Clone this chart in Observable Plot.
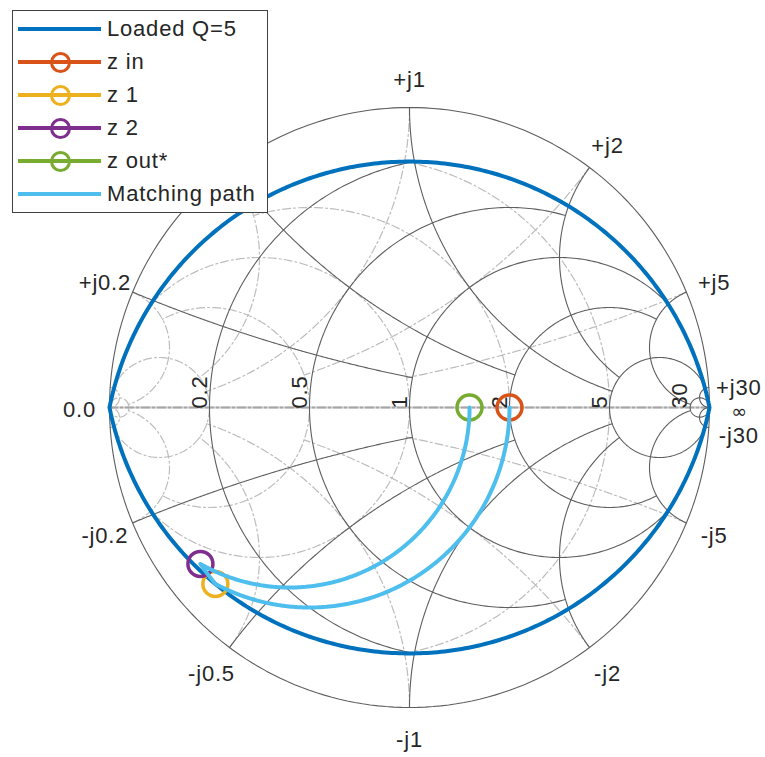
<!DOCTYPE html>
<html><head><meta charset="utf-8">
<script src="https://cdn.jsdelivr.net/npm/d3@7"></script>
<script src="https://cdn.jsdelivr.net/npm/@observablehq/plot@0.6"></script>
<style>
body{margin:0;background:#fff;}
#wrap{position:relative;width:765px;height:757px;font-family:"Liberation Sans",Arial,Helvetica,sans-serif;}
#legend{position:absolute;left:12px;top:10px;width:256px;height:203px;border:1.5px solid #404040;background:#fff;box-sizing:border-box;}
.row{position:absolute;left:0;width:100%;height:0;}
.ln{position:absolute;left:5px;width:83px;height:4px;top:-2px;}
.mk{position:absolute;left:37px;top:-10.5px;width:21px;height:21px;border-radius:50%;border:3px solid;box-sizing:border-box;background:transparent;}
.tx{position:absolute;left:94px;top:-13px;font-size:22px;line-height:26px;color:#262626;letter-spacing:0.8px;white-space:nowrap;}
</style></head>
<body><div id="wrap"><div id="chart"></div><div id="legend"></div></div>
<script>
// ---- chart data ----
const gridValues = [0.2, 0.5, 1, 2, 5, 30];
const gridLimits = [1, 2, 5, 5, 30, Infinity];
const resistanceLabels = ["0.2", "0.5", "1", "2", "5", "30"];
const posReactanceLabels = ["+j0.2", "+j0.5", "+j1", "+j2", "+j5", "+j30"];
const negReactanceLabels = ["-j0.2", "-j0.5", "-j1", "-j2", "-j5", "-j30"];
const loadedQ = 5;
const pointNames = ["z in", "z 1", "z 2", "z out*"];
const pointR = [2.0, 0.0769, 0.0769, 1.5];
const pointX = [0, -0.3846, -0.3309, 0];
const pointColors = ["#D95319", "#EDB120", "#7E2F8E", "#77AC30"];
const pathSteps = ["shunt", "series", "shunt"]; // element type between consecutive points
const qColor = "#0072BD";
const pathColor = "#4DBEEE";

// ---- Smith chart geometry ----
const N = 240;
const TAU = 2 * Math.PI;
function gamma(r, x) { const d = (r + 1) ** 2 + x * x; return [(r * r + x * x - 1) / d, 2 * x / d]; }
function norm(a) { return a < 0 ? a + TAU : a; }

const zGrid = [];
gridValues.forEach((v, i) => {
  const L = gridLimits[i];
  // constant resistance circle, clipped to |x| <= L
  const c = v / (1 + v), rho = 1 / (1 + v);
  let phiL = 0;
  if (isFinite(L)) { const g = gamma(v, L); phiL = Math.atan2(g[1], g[0] - c); }
  for (let k = 0; k <= N; k++) {
    const phi = phiL + (TAU - 2 * phiL) * k / N;
    zGrid.push({x: c + rho * Math.cos(phi), y: rho * Math.sin(phi), id: "r" + v});
  }
  // constant reactance arcs, clipped to r <= L
  const cy = 1 / v;
  const g0 = gamma(0, v);
  const p0 = norm(Math.atan2(g0[1] - cy, g0[0] - 1));
  const gE = isFinite(L) ? gamma(L, v) : [1, 0];
  const pE = norm(Math.atan2(gE[1] - cy, gE[0] - 1));
  for (const s of [1, -1]) {
    for (let k = 0; k <= N; k++) {
      const p = p0 + (pE - p0) * k / N;
      zGrid.push({x: 1 + cy * Math.cos(p), y: s * (cy + cy * Math.sin(p)), id: "x" + s * v});
    }
  }
});
const yGrid = zGrid.map(d => ({x: -d.x, y: -d.y, id: d.id}));
const unitCircle = d3.range(N + 1).map(k => ({x: Math.cos(TAU * k / N), y: Math.sin(TAU * k / N)}));
const realAxis = [{x: -1, y: 0}, {x: 1, y: 0}];

// loaded Q contour
const qc = 1 / loadedQ, qR = Math.sqrt(1 + qc * qc);
const a0 = Math.atan2(qc, -1), a1 = Math.atan2(qc, 1);
const qUpper = d3.range(N + 1).map(k => { const a = a0 + (a1 - a0) * k / N; return {x: qR * Math.cos(a), y: -qc + qR * Math.sin(a)}; });
const qCurve = qUpper.concat(qUpper.slice().reverse().map(d => ({x: d.x, y: -d.y})));

// impedance points
const points = pointNames.map((n, i) => { const g = gamma(pointR[i], pointX[i]); return {name: n, x: g[0], y: g[1], color: pointColors[i]}; });

// matching path through the network elements
const matchPath = [];
pathSteps.forEach((t, i) => {
  const za = [pointR[i], pointX[i]], zb = [pointR[i + 1], pointX[i + 1]];
  for (let k = 0; k <= N; k++) {
    const f = k / N;
    let g;
    if (t === "series") {
      g = gamma(za[0], za[1] + (zb[1] - za[1]) * f);
    } else {
      const ya = [za[0] / (za[0] ** 2 + za[1] ** 2), -za[1] / (za[0] ** 2 + za[1] ** 2)];
      const yb = [zb[0] / (zb[0] ** 2 + zb[1] ** 2), -zb[1] / (zb[0] ** 2 + zb[1] ** 2)];
      const gg = ya[0], bb = ya[1] + (yb[1] - ya[1]) * f;
      const m = gg * gg + bb * bb;
      g = gamma(gg / m, -bb / m);
    }
    matchPath.push({x: g[0], y: g[1]});
  }
});

// labels
const reactLabelData = [];
gridValues.forEach((v, i) => {
  for (const [s, lab] of [[1, posReactanceLabels[i]], [-1, negReactanceLabels[i]]]) {
    const g = gamma(0, s * v); const a = Math.atan2(g[1], g[0]);
    reactLabelData.push({x: 1.1 * Math.cos(a), y: 1.1 * Math.sin(a), text: lab, v});
  }
});
reactLabelData.push({x: -1.1, y: 0, text: "0.0", v: 0});
const mainLabels = reactLabelData.filter(d => d.v < 30);
const topLabel = reactLabelData.filter(d => d.v >= 30 && d.y > 0);
const botLabel = reactLabelData.filter(d => d.v >= 30 && d.y < 0);
const infLabel = [{x: 1.1, y: 0, text: "∞"}];
const resLabelData = gridValues.map((v, i) => ({x: (v - 1) / (v + 1), y: 0, text: resistanceLabels[i]}));

const chart = Plot.plot({
  width: 765, height: 757,
  marginLeft: 109, marginRight: 56, marginTop: 107, marginBottom: 50,
  x: {domain: [-1, 1], axis: null},
  y: {domain: [-1, 1], axis: null},
  color: {type: "identity"},
  style: "font-family:'Liberation Sans',Arial,Helvetica,sans-serif;font-size:22px;color:#262626;background:#fff;overflow:visible;letter-spacing:0.8px;",
  marks: [
    Plot.line(realAxis, {x: "x", y: "y", stroke: "#e2e2e2", strokeWidth: 2.5}),
    Plot.line(yGrid, {x: "x", y: "y", z: "id", stroke: "#bdbdbd", strokeWidth: 1.2, strokeDasharray: "8,3,2,3"}),
    Plot.line(realAxis, {x: "x", y: "y", stroke: "#a6a6a6", strokeWidth: 2, strokeDasharray: "8,3,2,3"}),
    Plot.line(zGrid, {x: "x", y: "y", z: "id", stroke: "#5e5e5e", strokeWidth: 1.1}),
    Plot.line(unitCircle, {x: "x", y: "y", stroke: "#5e5e5e", strokeWidth: 1.1}),
    Plot.text(resLabelData, {x: "x", y: "y", text: "text", rotate: -90, textAnchor: "start", lineAnchor: "bottom", dx: -3, dy: 1, fontSize: 22, fill: "#262626"}),
    Plot.text(mainLabels, {x: "x", y: "y", text: "text", textAnchor: "middle", fontSize: 22, fill: "#262626", dy: 2}),
    Plot.text(topLabel, {x: "x", y: "y", text: "text", textAnchor: "middle", fontSize: 22, fill: "#262626", dy: 2}),
    Plot.text(botLabel, {x: "x", y: "y", text: "text", textAnchor: "middle", fontSize: 22, fill: "#262626", dy: 6}),
    Plot.text(infLabel, {x: "x", y: "y", text: "text", textAnchor: "middle", fontSize: 19, fontFamily: "DejaVu Sans", fill: "#262626", dy: 4}),
    Plot.line(qCurve, {x: "x", y: "y", stroke: qColor, strokeWidth: 4}),
    Plot.dot(points, {x: "x", y: "y", r: 12.5, stroke: "color", fill: "none", strokeWidth: 3.5}),
    Plot.line(matchPath, {x: "x", y: "y", stroke: pathColor, strokeWidth: 4})
  ]
});
document.getElementById("chart").appendChild(chart);

// legend
const legendItems = [{name: "Loaded Q=5", color: qColor, marker: false}]
  .concat(pointNames.map((n, i) => ({name: n, color: pointColors[i], marker: true})))
  .concat([{name: "Matching path", color: pathColor, marker: false}]);
const leg = document.getElementById("legend");
legendItems.forEach((it, i) => {
  const row = document.createElement("div");
  row.className = "row";
  row.style.top = (18 + 33 * i) + "px";
  row.innerHTML = `<div class="ln" style="background:${it.color}"></div>` +
    (it.marker ? `<div class="mk" style="border-color:${it.color}"></div>` : "") +
    `<div class="tx"></div>`;
  row.querySelector(".tx").textContent = it.name;
  leg.appendChild(row);
});
</script>
</body></html>
